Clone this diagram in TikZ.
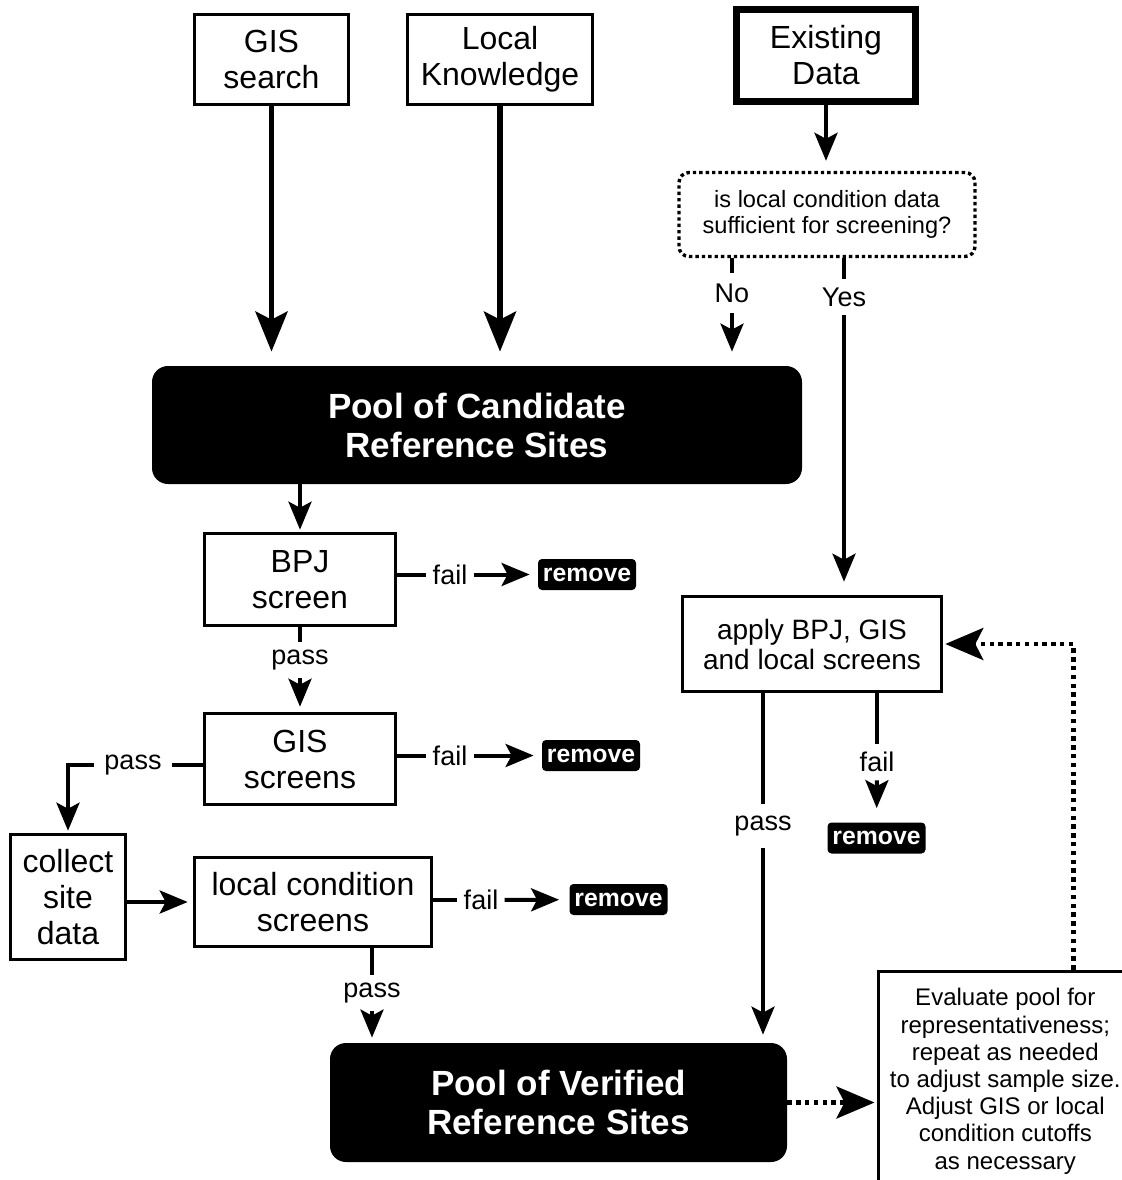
\documentclass[tikz,border=0pt]{standalone}
\usepackage{fontspec}
\setmainfont{Liberation Sans}
\usetikzlibrary{arrows.meta,positioning,calc}
\tikzset{box/.style={draw,line width=1.8pt,align=center,inner sep=0pt,font=\fontsize{16}{18}\selectfont}}
\tikzset{pool/.style={fill=black,text=white,rounded corners=8pt,align=center,inner sep=0pt,font=\bfseries\fontsize{17.5}{19.5}\selectfont}}
\tikzset{rmv/.style={fill=black,text=white,rounded corners=2pt,inner sep=0pt,minimum width=49pt,minimum height=15.5pt,font=\bfseries\fontsize{12.4}{14}\selectfont}}
\tikzset{lbl/.style={inner xsep=3pt,inner ysep=4pt,font=\fontsize{13.5}{15}\selectfont}}
\tikzset{link/.style={line width=2pt}}
\tikzset{arr/.style={link,-{Stealth[length=14pt,width=11.5pt,inset=3pt]}}}
\tikzset{bigarr/.style={line width=2.75pt,-{Stealth[length=20pt,width=16pt,inset=4pt]}}}
\tikzset{dotarr/.style={line width=2.2pt,dash pattern=on 2.2pt off 2.2pt,-{Stealth[length=19pt,width=16pt,inset=4pt]}}}

\begin{document}
\begin{tikzpicture}[x=0.5pt,y=-0.5pt]
	\useasboundingbox (0,0) rectangle (1122,1180);

		% Fontes de dados
		\node[box,minimum width=77pt,minimum height=45pt] (gis) at (271.5,59.5) {GIS\\search};
		\node[box,minimum width=92.5pt,minimum height=45pt] (know) at (500,59.5) {Local\\Knowledge};
		\node[box,line width=3.5pt,minimum width=89.5pt,minimum height=46pt] (exist) at (826,55.5) {Existing\\Data};

		% Pergunta
		\node[draw,line width=1.7pt,dash pattern=on 1.7pt off 1.5pt,rounded corners=5pt,align=center,
		      minimum width=148pt,minimum height=42pt,inner sep=0pt,font=\fontsize{11.8}{13}\selectfont]
			(quest) at (827,214.5) {is local condition data\\sufficient for screening?};

		% Os dois conjuntos
		\node[pool,minimum width=325pt,minimum height=59pt] (cand) at (477,425) {Pool of Candidate\\Reference Sites};
		\node[pool,minimum width=228.5pt,minimum height=59.5pt] (verif) at (558.5,1102.5) {Pool of Verified\\Reference Sites};

		% Filtros
		\node[box,minimum width=95.5pt,minimum height=46pt] (bpj) at (300,579.5) {BPJ\\screen};
		\node[box,minimum width=95.5pt,minimum height=45.5pt] (giss) at (300,759) {GIS\\screens};
		\node[box,minimum width=57.5pt,minimum height=62.5pt] (collect) at (68,897) {collect\\site\\data};
		\node[box,minimum width=118.5pt,minimum height=44.5pt] (locs) at (313,902) {local condition\\screens};
		\node[box,font=\fontsize{14}{15}\selectfont,minimum width=129.5pt,minimum height=47.5pt] (apply) at (812,644) {apply BPJ, GIS\\and local screens};

		% Avaliacao
		\node[box,font=\fontsize{12}{13.6}\selectfont,minimum width=127pt,minimum height=110pt,anchor=north west]
			(eval) at (876.5,969.5) {Evaluate pool for\\representativeness;\\repeat as needed\\to adjust sample size.\\Adjust GIS or local\\condition cutoffs\\as necessary};

		% Descartes
		\node[rmv] (rm1) at (587,574.5) {remove};
		\node[rmv] (rm2) at (591,755.5) {remove};
		\node[rmv] (rm3) at (618.5,899.5) {remove};
		\node[rmv] (rm4) at (876.5,838) {remove};

		% Rotulos
		\node[lbl,inner ysep=5pt] (no) at (732,293) {No};
		\node[lbl] (yes) at (844,297) {Yes};
		\node[lbl] (fail1) at (450,574.5) {fail};
		\node[lbl] (pass1) at (300,660) {pass};
		\node[lbl] (fail2) at (450,755.5) {fail};
		\node[lbl,inner xsep=5pt] (pass2) at (133,765) {pass};
		\node[lbl] (fail3) at (481,900) {fail};
		\node[lbl] (pass3) at (372,993) {pass};
		\node[lbl,inner ysep=6pt] (pass4) at (763,826) {pass};
		\node[lbl] (fail4) at (877,762) {fail};

		% Entradas
		\draw[bigarr,shorten >=7pt] (gis) -- (gis |- cand.north);
		\draw[bigarr,shorten >=7pt] (know) -- (know |- cand.north);
		\draw[arr,shorten >=5pt] (exist) -- (exist |- quest.north);
		\draw[link] (no |- quest.south) -- (no);
		\draw[arr,shorten >=7pt] (no) -- (no |- cand.north);
		\draw[link] (yes |- quest.south) -- (yes);
		\draw[arr,shorten >=6.5pt] (yes) -- (yes |- apply.north);

		% Ramo da esquerda
		\draw[arr,shorten >=1pt] (cand.south -| bpj) -- (bpj);
		\draw[link] (bpj.east |- fail1) -- (fail1);
		\draw[arr,shorten >=4pt] (fail1) -- (rm1);
		\draw[link] (bpj) -- (pass1);
		\draw[arr,shorten >=2.5pt] (pass1) -- (giss);
		\draw[link] (giss.east |- fail2) -- (fail2);
		\draw[arr,shorten >=4pt] (fail2) -- (rm2);
		\draw[link] (giss.west |- pass2) -- (pass2);
		\draw[arr,shorten >=1pt] (pass2) -| (collect);
		\draw[arr,shorten >=2.5pt] (collect.east |- locs) -- (locs);
		\draw[link] (locs.east |- fail3) -- (fail3);
		\draw[arr,shorten >=5pt] (fail3) -- (rm3);
		\draw[link] (locs.south -| pass3) -- (pass3);
		\draw[arr,shorten >=2.5pt] (pass3) -- (pass3 |- verif.north);

		% Ramo da direita
		\draw[link] (apply.south -| pass4) -- (pass4);
		\draw[arr,shorten >=4pt] (pass4) -- (pass4 |- verif.north);
		\draw[link] (apply.south -| fail4) -- (fail4);
		\draw[arr,shorten >=7pt] (fail4) -- (rm4);

		% Retorno
		\draw[dotarr,shorten >=1pt] (verif) -- (eval.west |- verif);
		\draw[dotarr,shorten >=1pt] ([xshift=34pt]eval.north) |- (apply);

\end{tikzpicture}
\end{document}
